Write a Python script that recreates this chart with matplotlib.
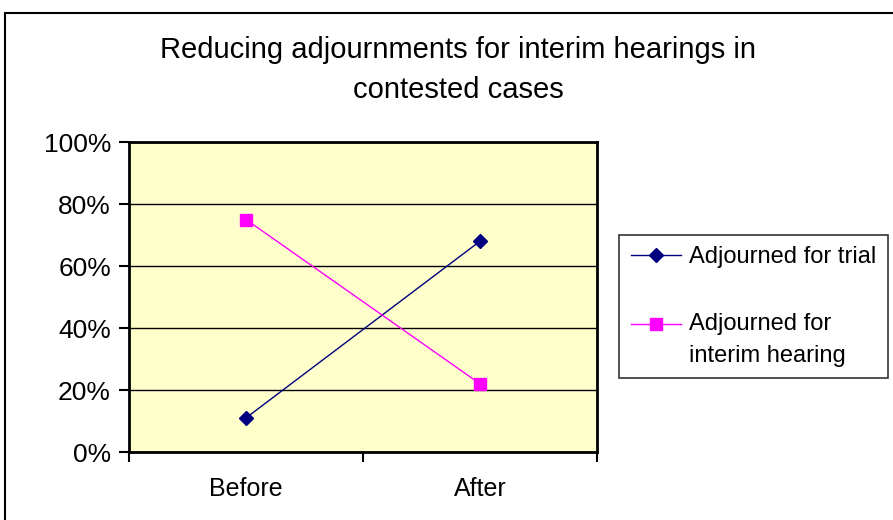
import matplotlib
matplotlib.use("Agg")
import matplotlib.pyplot as plt
from matplotlib.patches import Rectangle
from matplotlib.legend_handler import HandlerLine2D
from matplotlib.ticker import PercentFormatter

plt.rcParams["font.family"] = ["Liberation Sans", "DejaVu Sans"]

categories = ["Before", "After"]
trial = [11, 68]
interim = [75, 22]
yticks = [0, 20, 40, 60, 80, 100]


class TopHandler(HandlerLine2D):
    # put the legend handle level with the first line of a two-line label
    def __init__(self, dy, **kw):
        super().__init__(**kw)
        self.dy = dy

    def create_artists(self, legend, orig_handle, xdescent, ydescent,
                       width, height, fontsize, trans):
        return super().create_artists(legend, orig_handle, xdescent,
                                      ydescent - 2 * self.dy, width, height,
                                      fontsize, trans)


fig = plt.figure(figsize=(8.93, 5.2), dpi=100)
W, H = 893, 520

# outer chart frame (cut off at right and bottom)
fig.patches.append(Rectangle((5 / W, -0.1), 1.1, (520 - 13) / H + 0.1,
                             transform=fig.transFigure, fill=False,
                             edgecolor="black", lw=1.5))

ax = fig.add_axes([129 / W, 1 - 452 / H, (597 - 129) / W, (452 - 142) / H])
ax.set_facecolor("#FFFFCC")

x = range(len(categories))
l1, = ax.plot(x, trial, "-D", color="#000080", lw=1, ms=7,
              label="Adjourned for trial")
l2, = ax.plot(x, interim, "-s", color="#FF00FF", lw=1, ms=8,
              label="Adjourned for\ninterim hearing")

ax.set_xlim(-0.5, 1.5)
ax.set_ylim(0, 100)
ax.set_yticks(yticks)
ax.yaxis.set_major_formatter(PercentFormatter(decimals=0))
ax.set_xticks([-0.5, 0.5, 1.5])
ax.set_xticklabels([])
ax.set_xticks(list(x), minor=True)
ax.set_xticklabels(categories, minor=True)
ax.tick_params(axis="x", which="minor", length=0, pad=18, labelsize=18)
ax.tick_params(axis="x", which="major", length=7, width=1.5)
ax.tick_params(axis="y", length=7, width=1.5, labelsize=19, pad=6)
ax.grid(axis="y", color="black", lw=1)
ax.set_axisbelow(True)
for s in ax.spines.values():
    s.set_linewidth(2)

fig.text(458 / W, 1 - 50 / H, "Reducing adjournments for interim hearings in",
         ha="center", va="center", fontsize=21)
fig.text(458 / W, 1 - 90 / H, "contested cases",
         ha="center", va="center", fontsize=21)

leg = fig.legend(handles=[l1, l2], loc="center",
                 bbox_to_anchor=(753.5 / W, 1 - 306.5 / H),
                 fontsize=17, frameon=True, fancybox=False, edgecolor="black",
                 borderpad=0.5, labelspacing=1.9, handlelength=2.1,
                 handletextpad=0.35, borderaxespad=0,
                 handler_map={l2: TopHandler(12)})
leg.get_frame().set_linewidth(1.2)
for t in leg.get_texts():
    t.set_linespacing(1.55)

fig.savefig("out.png", dpi=100)
